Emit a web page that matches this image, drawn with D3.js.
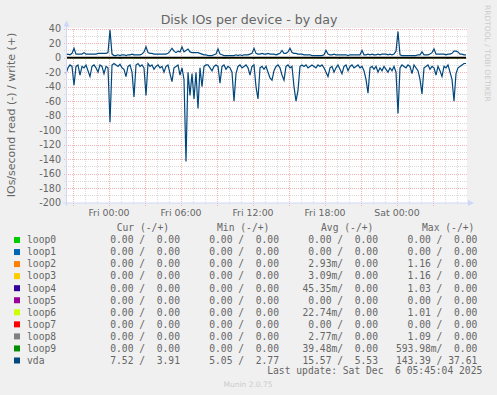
<!DOCTYPE html>
<html>
<head>
<meta charset="utf-8">
<script src="https://cdn.jsdelivr.net/npm/d3@7"></script>
<style>
  body { margin: 0; background: #f0f0f0; }
  svg { display: block; font-family: "DejaVu Sans", sans-serif; }
  .mono { font-family: "DejaVu Sans Mono", monospace; white-space: pre; }
</style>
</head>
<body>
<svg id="chart" width="497" height="395"></svg>
<script>
// Legend data
const devices = ['loop0', 'loop1', 'loop2', 'loop3', 'loop4', 'loop5', 'loop6', 'loop7', 'loop8', 'loop9', 'vda'];
const deviceColors = ['#00cc00', '#0066b3', '#ff8000', '#ffcc00', '#330099', '#990099', '#ccff00', '#ff0000', '#808080', '#008f00', '#00487d'];
const legendHeaders = ['Cur (-/+)', 'Min (-/+)', 'Avg (-/+)', 'Max (-/+)'];
const curValues = ['0.00 /  0.00', '0.00 /  0.00', '0.00 /  0.00', '0.00 /  0.00', '0.00 /  0.00', '0.00 /  0.00', '0.00 /  0.00', '0.00 /  0.00', '0.00 /  0.00', '0.00 /  0.00', '7.52 /  3.91'];
const minValues = ['0.00 /  0.00', '0.00 /  0.00', '0.00 /  0.00', '0.00 /  0.00', '0.00 /  0.00', '0.00 /  0.00', '0.00 /  0.00', '0.00 /  0.00', '0.00 /  0.00', '0.00 /  0.00', '5.05 /  2.77'];
const avgValues = ['0.00 /  0.00', '0.00 /  0.00', '2.93m/  0.00', '3.09m/  0.00', '45.35m/  0.00', '0.00 /  0.00', '22.74m/  0.00', '0.00 /  0.00', '2.77m/  0.00', '39.48m/  0.00', '15.57 /  5.53'];
const maxValues = ['0.00 /  0.00', '0.00 /  0.00', '1.16 /  0.00', '1.16 /  0.00', '1.03 /  0.00', '0.00 /  0.00', '1.01 /  0.00', '0.00 /  0.00', '1.09 /  0.00', '593.98m/  0.00', '143.39 / 37.61'];

// Axes
const yTicks = [40, 20, 0, -20, -40, -60, -80, -100, -120, -140, -160, -180, -200];
const xTickLabels = ['Fri 00:00', 'Fri 06:00', 'Fri 12:00', 'Fri 18:00', 'Sat 00:00'];
const xTickTimes = [Date.UTC(2025, 11, 5, 0), Date.UTC(2025, 11, 5, 6), Date.UTC(2025, 11, 5, 12), Date.UTC(2025, 11, 5, 18), Date.UTC(2025, 11, 6, 0)];

// Series: one sample every 10 minutes from Thu 20:25 to Sat 05:45
const startTime = Date.UTC(2025, 11, 4, 20, 25);
const endTime = Date.UTC(2025, 11, 6, 5, 45);
const stepMs = 10 * 60 * 1000;

const vdaWrite = [
  4, 5, 4, 6, 13, 5, 5, 5, 5, 7,
  5, 5, 5, 5, 5, 5, 6, 6, 6, 6,
  6, 7, 38, 5, 3, 3, 4, 3, 4, 4,
  3, 4, 4, 5, 4, 4, 4, 4, 5, 8,
  15, 7, 6, 6, 5, 5, 5, 5, 5, 5,
  5, 6, 9, 13, 9, 7, 9, 8, 15, 8,
  10, 12, 8, 7, 7, 7, 7, 6, 5, 4,
  4, 3, 3, 3, 4, 5, 12, 5, 4, 3,
  3, 3, 3, 3, 3, 4, 3, 4, 3, 4,
  4, 4, 5, 6, 13, 6, 5, 5, 6, 5,
  5, 6, 5, 5, 5, 4, 5, 6, 10, 6,
  6, 8, 13, 7, 6, 6, 5, 5, 5, 4,
  4, 4, 4, 3, 3, 3, 3, 3, 3, 4,
  10, 5, 4, 4, 5, 4, 4, 4, 4, 4,
  4, 3, 4, 4, 4, 4, 4, 4, 10, 4,
  4, 5, 4, 5, 4, 4, 5, 4, 5, 5,
  5, 4, 5, 4, 5, 9, 36, 4, 3, 3,
  3, 3, 3, 3, 3, 3, 4, 4, 8, 4,
  4, 4, 5, 7, 12, 5, 5, 5, 5, 5,
  4, 5, 5, 6, 9, 9, 8, 5, 5, 4,
  4
];

const vdaRead = [
  22, 14, 10, 12, 38, 12, 10, 24, 12, 14,
  10, 18, 26, 12, 10, 14, 20, 10, 12, 22,
  12, 14, 89, 10, 8, 10, 12, 9, 14, 16,
  26, 12, 10, 20, 54, 10, 8, 12, 10, 14,
  52, 8, 12, 10, 16, 12, 10, 14, 12, 20,
  12, 10, 22, 33, 14, 12, 10, 24, 14, 30,
  143, 20, 52, 22, 57, 20, 70, 14, 40, 12,
  10, 10, 14, 18, 12, 10, 12, 35, 12, 10,
  16, 12, 14, 20, 60, 22, 12, 10, 14, 12,
  10, 14, 24, 12, 10, 40, 57, 14, 12, 16,
  12, 20, 28, 31, 18, 12, 10, 14, 24, 31,
  12, 10, 14, 12, 40, 60, 45, 12, 10, 12,
  10, 14, 12, 10, 12, 14, 10, 12, 10, 14,
  20, 26, 14, 12, 20, 14, 10, 16, 22, 12,
  10, 18, 12, 10, 14, 12, 10, 14, 12, 18,
  30, 49, 14, 12, 16, 12, 20, 14, 18, 12,
  16, 20, 14, 18, 12, 20, 77, 14, 10, 12,
  14, 10, 12, 22, 10, 14, 18, 30, 50, 14,
  12, 10, 16, 12, 14, 24, 12, 18, 26, 12,
  14, 10, 20, 30, 60, 22, 14, 12, 10, 8,
  8
];

// Small read blips of the loop devices: [device, sample index, value]
const loopSpikes = [
  ['loop3', 21, 1.16], ['loop2', 22, 1.16], ['loop4', 27, 1.03], ['loop6', 33, 1.01],
  ['loop4', 79, 0.8], ['loop4', 94, 1.0], ['loop8', 131, 1.09], ['loop4', 137, 0.9],
  ['loop9', 178, 0.59], ['loop4', 179, 1.0], ['loop4', 191, 0.9]
];

const fontColor = '#666666';
const axisColor = '#cfd6f8';
const majorGrid = '#f0b4b4';
const minorGrid = '#dadada';

const svg = d3.select('#chart');

const plotLeft = 66, plotRight = 466;
const x = d3.scaleUtc().domain([startTime, endTime]).range([plotLeft, plotRight]);
const y = d3.scaleLinear().domain([-200, 40]).range([202.7, 28.7]);
const timeAt = i => startTime + i * stepMs;

// Canvas
svg.append('rect')
  .attr('x', plotLeft + 1).attr('y', 28)
  .attr('width', plotRight - plotLeft).attr('height', 175)
  .attr('fill', '#ffffff');

// Grid
const grid = svg.append('g').attr('shape-rendering', 'crispEdges');
const gridValues = d3.range(-190, 41, 10);
gridValues.forEach(v => {
  const major = v % 20 === 0;
  const py = Math.round(y(v)) + 0.5;
  grid.append('line')
    .attr('x1', plotLeft - 2).attr('x2', plotRight + 2)
    .attr('y1', py).attr('y2', py)
    .attr('stroke', major ? majorGrid : minorGrid)
    .attr('stroke-dasharray', '1,1');
});
d3.utcHour.range(startTime, endTime).forEach(t => {
  const major = t.getUTCHours() % 3 === 0;
  const px = Math.round(x(t)) + 0.5;
  grid.append('line')
    .attr('x1', px).attr('x2', px)
    .attr('y1', 28.7).attr('y2', major ? 206 : 204)
    .attr('stroke', major ? majorGrid : minorGrid)
    .attr('stroke-dasharray', '1,1');
});

// Series
const line = d3.line()
  .x((d, i) => x(timeAt(i)))
  .y(d => y(d));

devices.slice(0, 10).forEach((dev, k) => {
  const spikes = loopSpikes.filter(s => s[0] === dev);
  if (spikes.length === 0) return;
  const values = vdaRead.map((d, i) => {
    const hit = spikes.find(s => s[1] === i);
    return hit ? -hit[2] : 0;
  });
  svg.append('path')
    .datum(values)
    .attr('d', line)
    .attr('fill', 'none')
    .attr('stroke', deviceColors[k])
    .attr('stroke-width', 1);
});

// Zero rule
svg.append('line')
  .attr('x1', plotLeft + 1).attr('x2', plotRight)
  .attr('y1', y(0)).attr('y2', y(0))
  .attr('stroke', '#000000').attr('stroke-width', 1.8);

const vdaColor = deviceColors[devices.indexOf('vda')];
svg.append('path')
  .datum(vdaWrite)
  .attr('d', line)
  .attr('fill', 'none')
  .attr('stroke', vdaColor)
  .attr('stroke-width', 1.2);
svg.append('path')
  .datum(vdaRead.map(d => -d))
  .attr('d', line)
  .attr('fill', 'none')
  .attr('stroke', vdaColor)
  .attr('stroke-width', 1.2);

// Axis lines and arrows
svg.append('line')
  .attr('x1', 66.5).attr('x2', 66.5).attr('y1', 206).attr('y2', 23)
  .attr('stroke', axisColor);
svg.append('path')
  .attr('d', 'M63.5,26.5 L69.5,26.5 L66.5,20.5 Z')
  .attr('fill', axisColor);
svg.append('line')
  .attr('x1', 63).attr('x2', 470).attr('y1', 203).attr('y2', 203)
  .attr('stroke', axisColor);
svg.append('path')
  .attr('d', 'M468,200 L468,206 L474,203 Z')
  .attr('fill', axisColor);

// Y tick labels
svg.append('g')
  .selectAll('text')
  .data(yTicks)
  .enter()
  .append('text')
  .attr('x', 61)
  .attr('y', d => y(d))
  .attr('dy', '0.35em')
  .attr('text-anchor', 'end')
  .attr('font-size', 9.6)
  .attr('fill', fontColor)
  .text(d => d);

// X tick labels
svg.append('g')
  .selectAll('text')
  .data(xTickTimes)
  .enter()
  .append('text')
  .attr('x', d => x(d))
  .attr('y', 216)
  .attr('text-anchor', 'middle')
  .attr('font-size', 9.4)
  .attr('fill', fontColor)
  .text((d, i) => xTickLabels[i]);

// Title
svg.append('text')
  .attr('x', 249).attr('y', 23.5)
  .attr('text-anchor', 'middle')
  .attr('font-size', 12.6)
  .attr('fill', fontColor)
  .text('Disk IOs per device - by day');

// Vertical axis label
svg.append('text')
  .attr('transform', 'translate(15,115) rotate(-90)')
  .attr('text-anchor', 'middle')
  .attr('font-size', 11)
  .attr('fill', fontColor)
  .text('IOs/second read (-) / write (+)');

// Watermark
svg.append('text')
  .attr('transform', 'translate(485,5) rotate(90)')
  .attr('font-size', 7.5)
  .attr('fill', '#cccccc')
  .text('RRDTOOL / TOBI OETIKER');

// Legend
const legend = svg.append('g').attr('class', 'mono').attr('font-size', 9.67).attr('fill', fontColor);
const headerX = [116.7, 217, 321, 422];
legend.selectAll('text.hdr')
  .data(legendHeaders)
  .enter()
  .append('text')
  .attr('class', 'hdr mono')
  .attr('x', (d, i) => headerX[i])
  .attr('y', 231.3)
  .text(d => d);

const rowY = k => 243.3 + 12.05 * k;
const columnEnds = [180, 279, 378, 477.3];
const columns = [curValues, minValues, avgValues, maxValues];

devices.forEach((dev, k) => {
  legend.append('rect')
    .attr('x', 14).attr('y', rowY(k) - 6.3)
    .attr('width', 6).attr('height', 6)
    .attr('fill', deviceColors[k]);
  legend.append('text')
    .attr('class', 'mono')
    .attr('x', 27).attr('y', rowY(k))
    .text(dev);
  columns.forEach((col, c) => {
    legend.append('text')
      .attr('class', 'mono')
      .attr('x', columnEnds[c]).attr('y', rowY(k))
      .attr('text-anchor', 'end')
      .text(col[k]);
  });
});

legend.append('text')
  .attr('class', 'mono')
  .attr('x', 482.3).attr('y', 374)
  .attr('text-anchor', 'end')
  .text('Last update: Sat Dec  6 05:45:04 2025');

svg.append('text')
  .attr('x', 248).attr('y', 387)
  .attr('text-anchor', 'middle')
  .attr('font-size', 7.5)
  .attr('fill', '#cccccc')
  .text('Munin 2.0.75');
</script>
</body>
</html>
